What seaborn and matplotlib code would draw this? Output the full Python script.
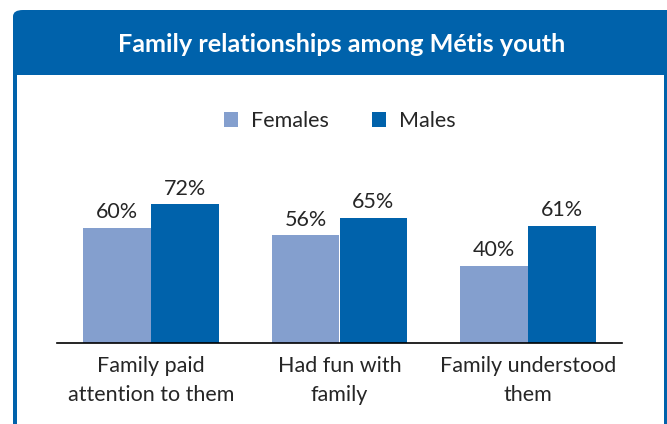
import matplotlib
matplotlib.use("Agg")
import matplotlib.pyplot as plt
import seaborn as sns
import pandas as pd
from matplotlib.patches import FancyBboxPatch, Rectangle, Patch

# data
categories = ["Family paid\nattention to them", "Had fun with\nfamily", "Family understood\nthem"]
females = [60, 56, 40]
males = [72, 65, 61]
series = ["Females", "Males"]
colors = ["#849FCE", "#0062AB"]

df = pd.DataFrame({
    "category": categories * 2,
    "sex": ["Females"] * 3 + ["Males"] * 3,
    "value": females + males,
})

sns.set_style("white")
plt.rcParams["font.family"] = ["Lato", "DejaVu Sans"]

W, H = 667, 424
fig = plt.figure(figsize=(W / 100, H / 100), dpi=100)
blue = "#0062AB"

# frame: blue box with rounded top-left corner, white inside
frame = FancyBboxPatch((13 / W, -0.2), (W + 20 - 13) / W, (H - 10) / H + 0.2,
                       boxstyle="round,pad=0,rounding_size=0.015",
                       transform=fig.transFigure, facecolor=blue,
                       edgecolor="none", zorder=-2)
fig.patches.append(frame)
inner = Rectangle((17 / W, -0.1), (W - 17 - 3) / W, (H - 75) / H + 0.1,
                  transform=fig.transFigure, facecolor="white",
                  edgecolor="none", zorder=-1)
fig.patches.append(inner)
fig.text(0.512, 1 - 44 / H, "Family relationships among Métis youth",
         ha="center", va="center", color="white", fontsize=18.2,
         fontweight="bold")

# axes
ax_left, ax_right = 57 / W, 622 / W
ax_bottom = (H - 343) / H
ax_h = 192.5 / H
ax = fig.add_axes([ax_left, ax_bottom, ax_right - ax_left, ax_h])
ax.set_facecolor("none")

sns.barplot(data=df, x="category", y="value", hue="sex", palette=colors,
            width=0.72, gap=0, ax=ax, legend=False, saturation=1,
            linewidth=0, edgecolor="none")

for cont in ax.containers:
    ax.bar_label(cont, fmt="%d%%", padding=4, fontsize=15.5)

ax.set_xlim(-0.5, 2.5)
ax.set_ylim(0, 100)
ax.set_xlabel("")
ax.set_ylabel("")
ax.set_yticks([])
for s in ["left", "right", "top"]:
    ax.spines[s].set_visible(False)
ax.spines["bottom"].set_color("black")
ax.spines["bottom"].set_linewidth(1.2)
ax.tick_params(axis="x", which="major", length=0, pad=9, labelsize=15.5)
for lbl in ax.get_xticklabels():
    lbl.set_linespacing(1.6)
ax.set_xticks([-0.5, 0.5, 1.5, 2.5], minor=True)
ax.tick_params(axis="x", which="minor", length=5, width=1.2, direction="out")

handles = [Patch(facecolor=c, edgecolor="none") for c in colors]
fig.legend(handles, series, loc="center", bbox_to_anchor=(0.51, 1 - 121 / H),
           ncol=2, frameon=False, fontsize=15.5, handlelength=0.65,
           handleheight=0.65, handletextpad=0.6, columnspacing=2.0)

fig.savefig("out.png", dpi=100)
